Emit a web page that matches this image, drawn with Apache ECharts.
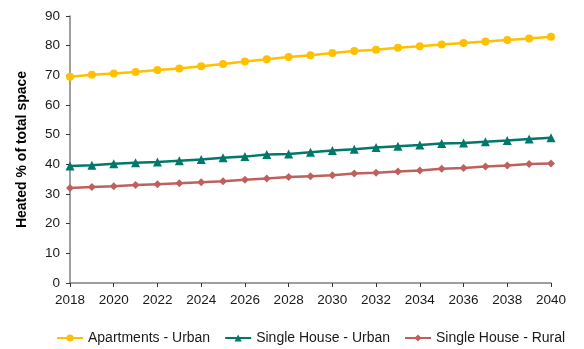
<!DOCTYPE html>
<html>
<head>
<meta charset="utf-8">
<script src="https://cdn.jsdelivr.net/npm/echarts@6/dist/echarts.min.js"></script>
<style>
  html, body { margin: 0; padding: 0; background: #fff; }
  #chart { width: 584px; height: 349px; }
</style>
</head>
<body>
<div id="chart"></div>
<script>
// Years on the horizontal axis
const years = ['2018','2019','2020','2021','2022','2023','2024','2025','2026','2027','2028',
               '2029','2030','2031','2032','2033','2034','2035','2036','2037','2038','2039','2040'];

// Heated share of total floor space (%)
const apartmentsUrban = [69.5, 70.2, 70.6, 71.1, 71.8, 72.3, 73.1, 73.8, 74.7, 75.4, 76.2,
                         76.8, 77.5, 78.2, 78.6, 79.3, 79.8, 80.4, 80.9, 81.4, 81.9, 82.4, 83.0];
const singleHouseUrban = [39.4, 39.7, 40.2, 40.5, 40.8, 41.2, 41.6, 42.2, 42.6, 43.3, 43.5,
                          44.1, 44.7, 45.1, 45.7, 46.1, 46.5, 47.0, 47.2, 47.6, 48.0, 48.5, 49.0];
const singleHouseRural = [32.0, 32.4, 32.6, 33.0, 33.3, 33.6, 34.0, 34.3, 34.8, 35.2, 35.7,
                          36.0, 36.3, 36.9, 37.2, 37.6, 37.9, 38.5, 38.8, 39.3, 39.6, 40.1, 40.3];

const seriesNames = ['Apartments - Urban', 'Single House - Urban', 'Single House - Rural'];

const font = 'Liberation Sans, Arial, sans-serif';
const axisGrey = '#7f7f7f';

const chart = echarts.init(document.getElementById('chart'), null, { renderer: 'canvas' });

function lineSeries(name, data, color, symbol, size) {
  return {
    name: name,
    type: 'line',
    data: data,
    symbol: symbol,
    symbolSize: size,
    showAllSymbol: true,
    lineStyle: { color: color, width: 2.5 },
    itemStyle: { color: color },
    emphasis: { disabled: true },
    animation: false
  };
}

chart.setOption({
  animation: false,
  textStyle: { fontFamily: font },
  grid: { left: 70, right: 33, top: 16, bottom: 66, containLabel: false },
  legend: {
    top: 326,
    left: 51,
    itemWidth: 26,
    itemHeight: 9,
    itemGap: 14,
    textStyle: { fontFamily: font, fontSize: 14, color: '#1a1a1a' },
    data: seriesNames
  },
  xAxis: {
    type: 'category',
    data: years,
    boundaryGap: false,
    axisLine: { lineStyle: { color: axisGrey, width: 1.5 } },
    axisTick: { show: true, interval: 1, length: 4, lineStyle: { color: '#333' } },
    axisLabel: { interval: 1, color: '#1a1a1a', fontSize: 13.5, fontFamily: font, margin: 10 },
    splitLine: { show: false }
  },
  yAxis: {
    type: 'value',
    min: 0,
    max: 90,
    interval: 10,
    name: 'Heated % of total space',
    nameLocation: 'middle',
    nameGap: 41,
    nameTextStyle: { fontFamily: font, fontSize: 14, fontWeight: 'bold', color: '#000' },
    axisLine: { show: true, lineStyle: { color: axisGrey, width: 1.5 } },
    axisTick: { show: true, length: 4, lineStyle: { color: '#333' } },
    axisLabel: { color: '#1a1a1a', fontSize: 13.5, fontFamily: font, margin: 10 },
    splitLine: { show: false }
  },
  series: [
    lineSeries(seriesNames[0], apartmentsUrban, '#FFC000', 'circle', 8),
    lineSeries(seriesNames[1], singleHouseUrban, '#00796B', 'triangle', 9),
    lineSeries(seriesNames[2], singleHouseRural, '#C0605E', 'diamond', 8)
  ]
});
</script>
</body>
</html>
